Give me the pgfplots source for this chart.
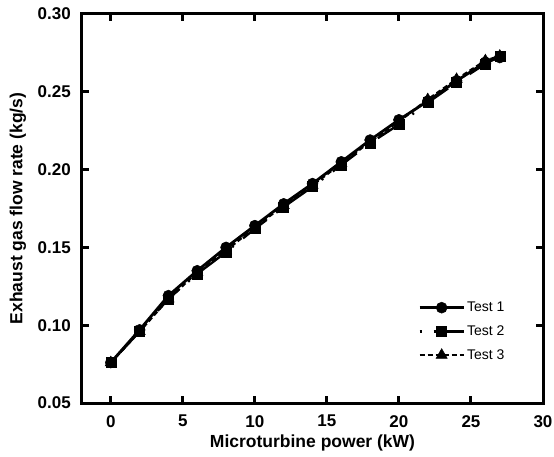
\documentclass[border=0pt]{standalone}
\usepackage{pgfplots}
\pgfplotsset{compat=1.18}
\usepackage{fontspec}
\setmainfont{Liberation Sans}

% Exhaust gas flow rate measured in three test runs
\pgfplotstableread{
x    y
0    0.076
2    0.097
4    0.119
6    0.135
8    0.150
10   0.164
12   0.178
14   0.191
16   0.205
18   0.219
20   0.232
22   0.244
24   0.257
26   0.269
27   0.272
}\testone
\pgfplotstableread{
x    y
0    0.076
2    0.096
4    0.117
6    0.133
8    0.147
10   0.162
12   0.176
14   0.189
16   0.203
18   0.217
20   0.229
22   0.243
24   0.256
26   0.268
27   0.273
}\testtwo
\pgfplotstableread{
x    y
0    0.076
2    0.096
4    0.117
6    0.134
8    0.148
10   0.163
12   0.177
14   0.190
16   0.204
18   0.218
20   0.231
22   0.245
24   0.258
26   0.270
27   0.273
}\testthree

\begin{document}
\begin{tikzpicture}
\begin{axis}[
  scale only axis,
  width=461pt, height=389pt,
  xmin=-2, xmax=30,
  ymin=0.05, ymax=0.30,
  xtick={0,5,10,15,20,25,30},
  ytick={0.05,0.10,0.15,0.20,0.25,0.30},
  yticklabel style={/pgf/number format/fixed, /pgf/number format/fixed zerofill,
    /pgf/number format/precision=2, xshift=-11pt},
  /pgf/number format/assume math mode=true,
  tick align=inside,
  major tick length=7pt,
  every tick/.append style={black, line width=3pt},
  axis line style={line width=3pt},
  tick label style={font=\fontsize{17}{17}\selectfont\bfseries, inner sep=0pt},
  xticklabel style={yshift=-12pt},
  label style={font=\fontsize{17.5}{18}\selectfont\bfseries, inner sep=0pt},
  xlabel={Microturbine power (kW)},
  ylabel={Exhaust gas flow rate (kg/s)},
  xlabel style={at={(axis description cs:0.5,-0.102)}, anchor=center},
  ylabel style={at={(axis description cs:-0.139,0.5)}, anchor=center},
  legend cell align=left,
  legend style={draw=none, fill=none, at={(0.729,0.265)}, anchor=north west,
    font=\fontsize{14}{14}\selectfont, row sep=8.5pt,
    inner sep=0pt,
    /tikz/every even column/.append style={column sep=7pt}},
  legend image code/.code={
    \draw[mark repeat=2, mark phase=2, #1]
      plot coordinates {(0pt,0pt) (22pt,0pt) (44pt,0pt)};
  },
]
\addplot[black, solid, line width=2.8pt, mark=*, mark size=5.5pt,
  mark options={solid, line width=0.5pt}] table[x=x, y=y] {\testone};
\addlegendentry{Test 1}
\addplot[black, line width=2.4pt, dash pattern=on 2pt off 12pt on 30pt off 12pt,
  mark=square*, mark size=5pt, mark options={solid, line width=0.5pt}]
  table[x=x, y=y] {\testtwo};
\addlegendentry{Test 2}
\addplot[black, line width=2.4pt, dash pattern=on 5pt off 3pt,
  mark=triangle*, mark size=6.5pt, mark options={solid, line width=0.5pt}]
  table[x=x, y=y] {\testthree};
\addlegendentry{Test 3}
\end{axis}
% white margin around the figure
\path (current axis.south west) +(-82pt,-53pt)
      (current axis.north east) +(11pt,14pt);
\end{tikzpicture}
\end{document}
